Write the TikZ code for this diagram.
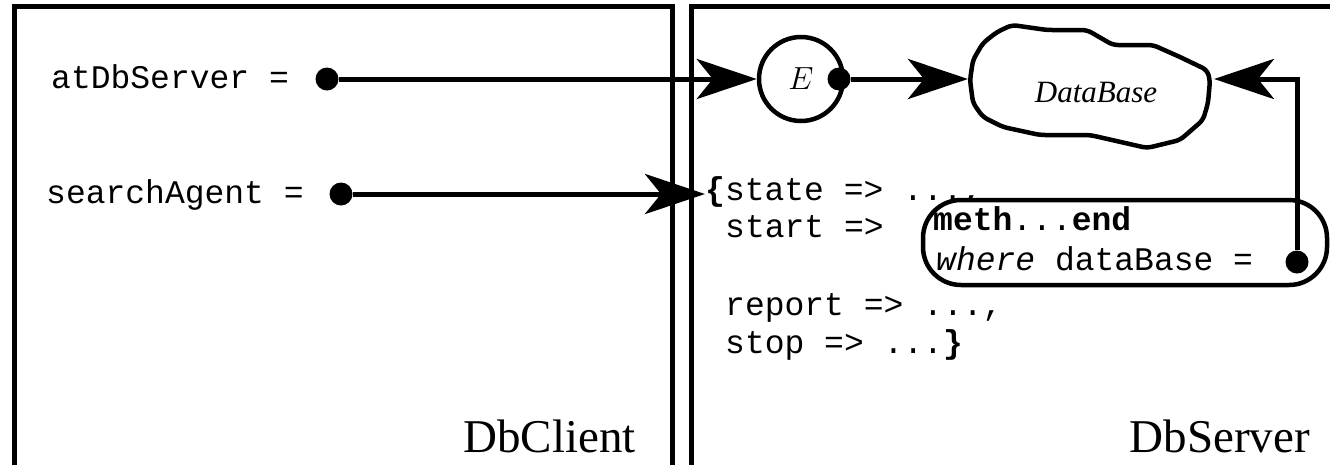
\documentclass[tikz,border=0pt]{standalone}
\usepackage{fix-cm}
\usepackage[no-math]{fontspec}
\setmainfont{Liberation Serif}
\newfontfamily\monof{Liberation Mono}
\usetikzlibrary{arrows.meta}
\tikzset{
 frame/.style={line width=5pt},
 conn/.style={line width=5pt},
 bigtip/.style={-{Stealth[length=60pt,width=40pt,inset=16pt]}},
 dot/.style={circle, fill=black, inner sep=0pt, minimum size=23pt},
 code/.style={font=\monof\fontsize{33}{33}\selectfont, inner sep=0pt, anchor=base west},
 title/.style={font=\fontsize{47}{47}\selectfont, inner sep=0pt, anchor=base east},
 outline/.style={line width=4.5pt},
}
\begin{document}
\begin{tikzpicture}[x=1pt,y=-1pt]
\useasboundingbox (0,0) rectangle (1330,464);
% frames
\draw[frame] (14.5,480) -- (14.5,6.5) -- (672.5,6.5) -- (672.5,480);
\draw[frame] (691.5,480) -- (691.5,6.5) -- (1345,6.5);
\node[title] (client) at (636,452) {DbClient};
\node[title] (server) at (1310,452) {DbServer};
% client texts
\node[code] (atdb) at (51,88) {atDbServer =};
\node[code] (sa) at (46,203) {searchAgent =};
% server code
\node[code] (l1) at (705,200) {\textbf{\{}state => ...,};
\node[code] (l2) at (725,237) {start =>};
\node[code] (l3) at (725,315) {report => ...,};
\node[code] (l4) at (725,353) {stop => ...\textbf{\}}};
% method box
\node[draw, outline, fill=white, rounded corners=38pt, minimum width=404pt, minimum height=85pt, inner sep=0pt] (mbox) at (1125,242.5) {};
\node[code] (m1) at (933,230) {\textbf{meth}...\textbf{end}};
\node[code] (m2) at (936,270) {\textit{where} dataBase =};
% E and database
\node[draw, circle, outline, minimum size=84pt, inner sep=0pt, font=\fontsize{32}{32}\selectfont] (E) at (801,79) {$E$};
\draw[outline, rounded corners=5pt] (970,80) -- (973,60) -- (983,43) -- (997,32) -- (1012,25) -- (1047,30) -- (1087,30) -- (1113,45) -- (1153,45) -- (1180,57) -- (1207,70) -- (1210,80) -- (1208,103) -- (1203,120) -- (1180,140) -- (1147,148) -- (1090,135) -- (1040,135) -- (1003,127) -- (983,117) -- (973,103) -- cycle;
\node[font=\itshape\fontsize{31}{31}\selectfont, inner sep=0pt, anchor=base] (db) at (1096,102) {DataBase};
\coordinate (dbW) at (968,79);
\coordinate (dbE) at (1214,79);
\coordinate (satip) at (705,194);
% dots
\node[dot] (d1) at (327,79) {};
\node[dot] (d2) at (341,194) {};
\node[dot] (d3) at (839,79) {};
\node[dot] (d4) at (1297,262) {};
% connectors
\draw[conn,bigtip] (d1) -- (E.west);
\draw[conn,bigtip] (d2) -- (satip);
\draw[conn,bigtip] (d3) -- (dbW);
\draw[conn,bigtip] (d4) |- (dbE);
\end{tikzpicture}
\end{document}
